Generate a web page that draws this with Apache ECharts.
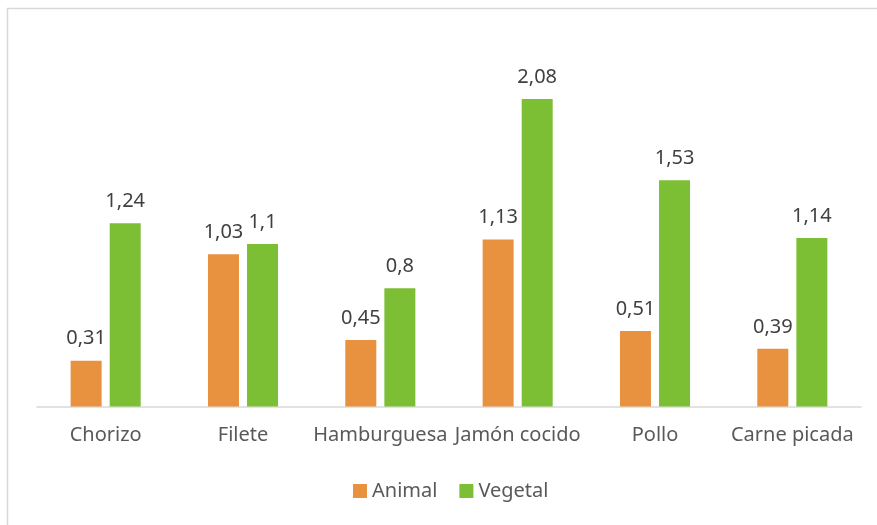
<!DOCTYPE html>
<html>
<head>
<meta charset="utf-8">
<script src="https://cdn.jsdelivr.net/npm/echarts@6/dist/echarts.min.js"></script>
<style>
  html, body { margin: 0; padding: 0; background: #fff; }
  #chart { width: 877px; height: 525px; }
</style>
</head>
<body>
<div id="chart"></div>
<script>
const categories = ['Chorizo', 'Filete', 'Hamburguesa', 'Jamón cocido', 'Pollo', 'Carne picada'];
const animal = [0.31, 1.03, 0.45, 1.13, 0.51, 0.39];
const vegetal = [1.24, 1.1, 0.8, 2.08, 1.53, 1.14];

const FONT = 'Noto Sans';
const fmt = p => String(p.value).replace('.', ',');

const chart = echarts.init(document.getElementById('chart'), null, { renderer: 'canvas' });

const labelStyle = {
  show: true,
  position: 'top',
  distance: 12,
  color: '#404040',
  fontFamily: FONT,
  fontSize: 20,
  formatter: fmt
};

chart.setOption({
  animation: false,
  backgroundColor: '#fff',
  graphic: [{
    type: 'polyline',
    shape: { points: [[7.5, 530], [7.5, 8.5], [880, 8.5]] },
    style: { stroke: '#D9D9D9', lineWidth: 1.5, fill: null },
    silent: true
  }],
  grid: { left: 37, right: 16, top: 37, bottom: 118.5 },
  legend: {
    bottom: 19,
    left: 348,
    itemWidth: 14,
    itemHeight: 14,
    itemGap: 22,
    icon: 'rect',
    textStyle: { color: '#595959', fontFamily: FONT, fontSize: 20 },
    data: ['Animal', 'Vegetal']
  },
  xAxis: {
    type: 'category',
    data: categories,
    axisLine: { lineStyle: { color: '#D9D9D9', width: 1.5 } },
    axisTick: { show: false },
    axisLabel: { color: '#595959', fontFamily: FONT, fontSize: 20, margin: 19, interval: 0 }
  },
  yAxis: {
    type: 'value',
    min: 0,
    max: 2.5,
    show: false,
    splitLine: { show: false }
  },
  series: [
    {
      name: 'Animal',
      type: 'bar',
      data: animal,
      barWidth: 31,
      barGap: '26%',
      itemStyle: { color: '#E8913F' },
      label: labelStyle
    },
    {
      name: 'Vegetal',
      type: 'bar',
      data: vegetal,
      barWidth: 31,
      barGap: '26%',
      itemStyle: { color: '#7CBF34' },
      label: labelStyle
    }
  ]
});
</script>
</body>
</html>
